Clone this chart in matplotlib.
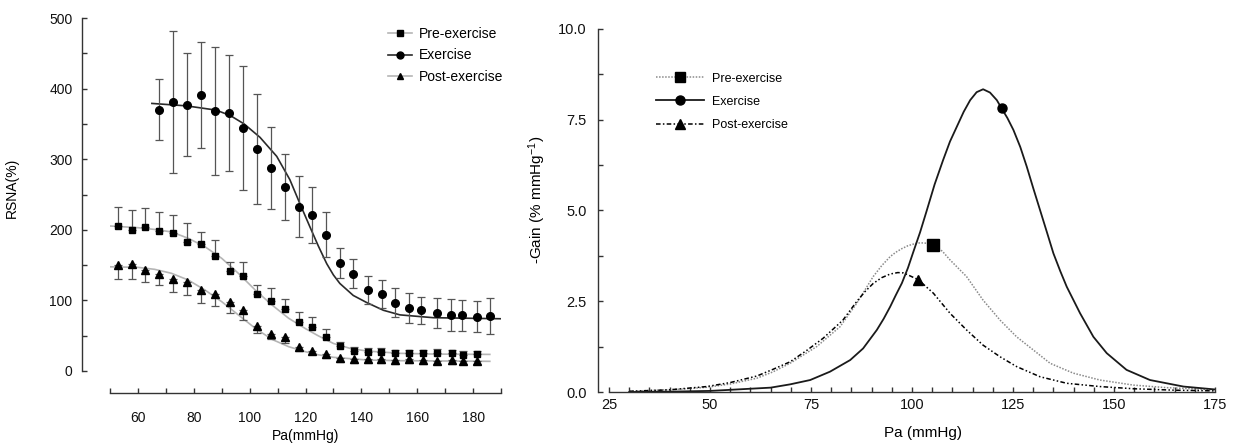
import numpy as np
import matplotlib
matplotlib.use("Agg")
import matplotlib.pyplot as plt
from matplotlib.legend_handler import HandlerLine2D
from matplotlib.lines import Line2D
from matplotlib.ticker import MultipleLocator, FormatStrFormatter

plt.rcParams['font.family'] = ['Liberation Sans', 'DejaVu Sans']
plt.rcParams['mathtext.fontset'] = 'custom'
plt.rcParams['mathtext.rm'] = 'Liberation Sans'
plt.rcParams['mathtext.default'] = 'regular'

# ---- left panel: RSNA vs Pa (binned means) ----
pa_bins = [53, 58, 62.5, 67.5, 72.5, 77.5, 82.5, 87.5, 93, 97.5, 102.5, 107.5, 112.5,
           117.5, 122.5, 127.5, 132.5, 137.5, 142.5, 147, 152, 157, 162, 167, 172.5, 176.5, 181.5]
pre_rsna = [205, 200, 203.5, 198.7, 195, 183, 179.4, 163.5, 141.5, 134, 108.6, 99.6, 87.6,
            70, 62, 48, 35, 29, 27, 27, 25, 25, 25, 25.5, 25, 23, 24]
pre_err = [28, 28, 28, 26, 26.5, 26, 17, 22, 13, 21, 13, 18, 15,
           13, 14, 11, 6, 5, 5, 6, 5, 5, 5, 5, 5, 5, 5]
post_rsna = [150, 151, 143, 138, 130, 126.5, 114.7, 108.6, 98, 86.5, 64, 52, 48,
             34, 29, 24, 18, 16.6, 16.6, 16.6, 15.6, 16.6, 15.6, 14.6, 15.6, 14.6, 14.6]
post_err = [19, 21, 16.5, 16.5, 17.5, 19, 19, 16.5, 16.5, 14, 10, 6, 9,
            5, 5, 5, 5, 5, 5, 5, 5, 5, 5, 5, 5, 5, 5]

ex_pa = [67.5, 72.5, 77.5, 82.5, 87.5, 92.5, 97.5, 102.5, 107.5, 112.5, 117.5, 122.5, 127.5,
         132.5, 137, 142.5, 147.5, 152, 157, 161.5, 167, 172, 176, 181.5, 186]
ex_rsna = [370, 381, 377, 391, 368, 365, 344, 315, 287, 261, 233, 221, 193,
           153, 138, 115, 109, 97, 89, 86, 82, 79, 79, 77, 78]
ex_err = [43, 100, 73, 75, 91, 82, 88, 78, 58, 47, 43, 39, 32,
          21, 20, 20, 20, 20, 21, 19, 21, 23, 22, 22, 26]

# fitted sigmoid curves
pre_fit_x = [50, 60, 66, 72, 78, 84, 90, 96, 102, 108, 114, 120, 124.5, 130, 136, 142, 154, 166, 186]
pre_fit_y = [205.4, 203, 200.5, 197, 188, 176, 159.6, 138.2, 114.7, 93.5, 74.6, 60, 50, 39, 32, 28.3, 25, 24, 23.5]
post_fit_x = [50, 60, 66, 72, 78, 84, 90, 96, 102, 108, 114, 120, 124.5, 130, 142, 154, 186]
post_fit_y = [147.6, 146.8, 144, 138.4, 128.9, 114.7, 98.2, 79.3, 60.5, 44.8, 34.4, 27.3, 23, 19.4, 15.6, 14.6, 13.7]
ex_fit_x = [65, 77.5, 88, 93, 98, 103.7, 109.7, 114.4, 118, 121.6, 124.6, 127.6, 130, 132.3,
            137.1, 141.9, 147.9, 153.8, 165.8, 190]
ex_fit_y = [379, 375.5, 369.5, 362, 350, 331, 304, 271, 237, 204, 177, 152, 136, 124,
            107, 97, 86, 79.5, 75.5, 74]

# ---- right panel: gain curves ----
pre_gain_x = [30, 36.8, 43, 49.2, 55, 61.6, 65.5, 69.8, 76.4, 82.2, 86.3, 90.4, 92.5, 94.6, 96, 97.5, 99,
              100.5, 102, 103.5, 105.3, 107.5, 109.4, 113.5, 117.6, 121.8, 125.9, 130, 134.2,
              139.9, 146.5, 154.8, 163, 175]
pre_gain_y = [0.02, 0.05, 0.08, 0.13, 0.22, 0.38, 0.55, 0.79, 1.25, 1.80, 2.44, 3.18, 3.48, 3.73, 3.85, 3.95, 4.03,
              4.08, 4.11, 4.10, 4.05, 3.88, 3.64, 3.18, 2.53, 1.98, 1.52, 1.16, 0.79,
              0.52, 0.33, 0.19, 0.12, 0.06]
ex_gain_x = [30, 40, 50, 55, 60, 65, 69.8, 74.8, 79.7, 84.7, 87.9, 91.3, 93, 94.6, 96, 97.5, 99, 100.3, 102,
             103.6, 105.6, 107.7, 109.4, 111.1, 112.8, 114.4, 116, 117.6, 119.3, 121, 122.2, 123.6, 125.1,
             126.8, 128.4, 130, 131.7, 133.4, 135, 136.7, 138.3,
             141.6, 144.9, 148.2, 153.1, 158.9, 167.2, 175]
ex_gain_y = [0.0, 0.01, 0.03, 0.06, 0.09, 0.12, 0.21, 0.33, 0.56, 0.88, 1.20, 1.71, 2.02, 2.35, 2.67, 3.0, 3.42, 3.85, 4.40,
             4.98, 5.72, 6.39, 6.9, 7.31, 7.72, 8.04, 8.26, 8.34, 8.25, 8.04, 7.81, 7.55, 7.22,
             6.75, 6.21, 5.62, 5.01, 4.40, 3.82, 3.33, 2.90,
             2.17, 1.52, 1.07, 0.61, 0.33, 0.15, 0.07]
post_gain_x = [30, 40, 49.2, 55, 61.6, 65.5, 69.8, 74, 78, 82.9, 86.3, 88.4, 90.4, 92.5, 94.6, 96.5, 97.9,
               99.5, 101.6, 105.3, 109.4, 113.5, 117.6, 121.8, 125.9, 131.7, 138.3, 146.5, 154.8, 165, 175]
post_gain_y = [0.02, 0.06, 0.15, 0.26, 0.44, 0.62, 0.83, 1.15, 1.48, 1.98, 2.49, 2.77, 2.99, 3.15, 3.25, 3.29, 3.28,
               3.2, 3.09, 2.72, 2.17, 1.71, 1.29, 0.97, 0.70, 0.42, 0.24, 0.15, 0.09, 0.05, 0.03]

# marker points on gain curves
pre_mark = (105.3, 4.05)
ex_mark = (122.2, 7.81)
post_mark = (101.6, 3.09)

labels = ['Pre-exercise', 'Exercise', 'Post-exercise']


class MarkerLeftHandler(HandlerLine2D):
    # put the marker at the left end of the legend line
    def get_xdata(self, legend, xdescent, ydescent, width, height, fontsize):
        return [-xdescent, -xdescent + width], [-xdescent]


fig = plt.figure(figsize=(12.37, 4.46), dpi=100)
ax1 = fig.add_axes([110 / 1237, (446 - 371) / 446, 391 / 1237, 353 / 446])
ax2 = fig.add_axes([609 / 1237, (446 - 392) / 446, 606 / 1237, 363 / 446])

axis_c = '#333333'
err_c = '#555555'
fit_gray = '#b5b5b5'

# left panel
ax1.plot(pre_fit_x, pre_fit_y, color=fit_gray, lw=1.2, zorder=1)
ax1.plot(post_fit_x, post_fit_y, color=fit_gray, lw=1.2, zorder=1)
ax1.plot(ex_fit_x, ex_fit_y, color='#2a2a2a', lw=1.2, zorder=1)

ax1.errorbar(pa_bins, pre_rsna, yerr=[np.zeros(len(pre_err)), pre_err], fmt='s', color='black',
             ms=5, ecolor=err_c, elinewidth=0.9, capsize=3, capthick=0.9, zorder=3)
ax1.errorbar(ex_pa, ex_rsna, yerr=ex_err, fmt='o', color='black',
             ms=5.5, ecolor=err_c, elinewidth=0.9, capsize=3, capthick=0.9, zorder=3)
ax1.errorbar(pa_bins, post_rsna, yerr=[post_err, np.zeros(len(post_err))], fmt='^', color='black',
             ms=5.5, ecolor=err_c, elinewidth=0.9, capsize=3, capthick=0.9, zorder=3)

ax1.set_xlim(50, 190)
ax1.set_ylim(0, 500)
ax1.spines['top'].set_visible(False)
ax1.spines['right'].set_visible(False)
ax1.spines['left'].set_position(('outward', 20))
ax1.spines['bottom'].set_position(('outward', 16))
ax1.spines['left'].set_bounds(0, 500)
ax1.spines['bottom'].set_bounds(50, 190)
for s in ['left', 'bottom']:
    ax1.spines[s].set_color(axis_c)
    ax1.spines[s].set_linewidth(1.0)
ax1.xaxis.set_major_locator(MultipleLocator(20))
ax1.xaxis.set_minor_locator(MultipleLocator(10))
ax1.yaxis.set_major_locator(MultipleLocator(100))
ax1.yaxis.set_minor_locator(MultipleLocator(50))
ax1.set_xticks([60, 80, 100, 120, 140, 160, 180])
ax1.tick_params(which='both', direction='in', color=axis_c, width=1.0, length=3.5,
                labelsize=10, labelcolor='#111111')
ax1.tick_params(axis='y', which='both', pad=7)
ax1.tick_params(axis='x', which='both', pad=13)
ax1.set_ylabel('RSNA(%)', fontsize=10)
ax1.set_xlabel('Pa(mmHg)', fontsize=10)
ax1.yaxis.set_label_coords(-0.232, 0.52)
ax1.xaxis.set_label_coords(0.5, -0.165)

h1 = [Line2D([], [], color=fit_gray, lw=1.2, marker='s', ms=4.5, mfc='black', mec='black'),
      Line2D([], [], color='#2a2a2a', lw=1.2, marker='o', ms=5, mfc='black', mec='black'),
      Line2D([], [], color=fit_gray, lw=1.2, marker='^', ms=5, mfc='black', mec='black')]
ax1.legend(h1, labels, loc='upper left', bbox_to_anchor=(0.711, 0.975), frameon=False,
           fontsize=10, handlelength=1.75, handletextpad=0.45, labelspacing=0.55, borderpad=0,
           borderaxespad=0, handler_map={Line2D: MarkerLeftHandler(numpoints=1)})

# right panel
ax2.plot(pre_gain_x, pre_gain_y, color='#8a8a8a', lw=1.1, ls=(0, (1, 1)), zorder=2)
ax2.plot(post_gain_x, post_gain_y, color='black', lw=1.1, ls=(0, (3, 1.5, 1, 1.5, 1, 1.5)), zorder=2)
ax2.plot(ex_gain_x, ex_gain_y, color='#1a1a1a', lw=1.3, zorder=2)
ax2.plot(*pre_mark, 's', color='black', ms=8, zorder=3)
ax2.plot(*ex_mark, 'o', color='black', ms=6.5, zorder=3)
ax2.plot(*post_mark, '^', color='black', ms=7.5, zorder=3)

ax2.set_xlim(25, 175)
ax2.set_ylim(0, 10)
ax2.spines['top'].set_visible(False)
ax2.spines['right'].set_visible(False)
ax2.spines['left'].set_position(('outward', 8))
ax2.spines['left'].set_bounds(0, 10)
ax2.spines['bottom'].set_bounds(25, 175)
for s in ['left', 'bottom']:
    ax2.spines[s].set_color(axis_c)
    ax2.spines[s].set_linewidth(1.0)
ax2.xaxis.set_major_locator(MultipleLocator(25))
ax2.xaxis.set_minor_locator(MultipleLocator(5))
ax2.yaxis.set_major_locator(MultipleLocator(2.5))
ax2.yaxis.set_minor_locator(MultipleLocator(1.25))
ax2.yaxis.set_major_formatter(FormatStrFormatter('%.1f'))
ax2.tick_params(which='both', direction='in', color=axis_c, width=1.0, length=3.5,
                labelsize=10.5, labelcolor='#111111')
ax2.tick_params(axis='y', which='both', pad=8)
ax2.tick_params(axis='x', which='both', pad=4)
ax2.set_ylabel('-Gain (% mmHg$^{-1}$)', fontsize=11)
ax2.set_xlabel('Pa (mmHg)', fontsize=11)
ax2.yaxis.set_label_coords(-0.1, 0.53)
ax2.xaxis.set_label_coords(0.518, -0.095)

h2 = [Line2D([], [], color='#8a8a8a', lw=1.1, ls=(0, (1, 1)), marker='s', ms=7, mfc='black', mec='black'),
      Line2D([], [], color='#1a1a1a', lw=1.3, marker='o', ms=6.5, mfc='black', mec='black'),
      Line2D([], [], color='black', lw=1.1, ls=(0, (3, 1.5, 1, 1.5)), marker='^', ms=7, mfc='black', mec='black')]
ax2.legend(h2, labels, loc='upper left', bbox_to_anchor=(0.078, 0.88), frameon=False,
           fontsize=9, handlelength=3.8, handletextpad=0.65, labelspacing=0.9, borderpad=0,
           borderaxespad=0, numpoints=1)

fig.savefig('out.png', dpi=100)
